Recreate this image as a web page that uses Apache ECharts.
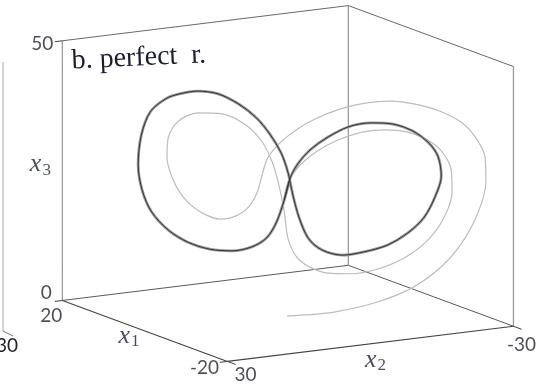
<!DOCTYPE html>
<html>
<head>
<meta charset="utf-8">
<script src="https://cdn.jsdelivr.net/npm/echarts@6/dist/echarts.min.js"></script>
<style>
html, body { margin: 0; padding: 0; background: #fff; }
#chart { width: 545px; height: 386px; }
</style>
</head>
<body>
<div id="chart"></div>
<script>
// Axis ranges of the 3-D box
const x1Range = [-20, 20];
const x2Range = [-30, 30];
const x3Range = [0, 50];

// Tick labels shown at the ends of each axis
const x1TickLabels = ['20', '-20'];
const x2TickLabels = ['30', '-30'];
const x3TickLabels = ['0', '50'];

// Transient part of the trajectory (light grey)
const transientX1 = [-1.2, -2.0, -4.2, -7.7, -10.8, -13.5, -15.4, -16.9, -17.6, -17.5, -16.7, -15.4, -13.5, -11.3, -9.1, -6.8, -4.6, -2.4, -0.6, 0.7,
  1.8, 2.3, 2.7, 3.4, 4.6, 6.0, 7.6, 9.0, 10.1, 10.7, 10.6, 9.7, 8.0, 5.8, 3.7, 2.3, 1.4, 0.8, 0.3, 0.0,
  -0.7, -1.9, -3.6, -5.5, -8.2, -10.6, -12.6, -13.9, -14.6, -14.5, -13.7, -12.4, -10.6, -8.6, -6.6, -4.4, -2.5, -1.1, -0.2];
const transientX2 = [1.2, -2.9, -6.3, -11.6, -16.2, -20.2, -23.2, -25.3, -26.3, -26.2, -25.0, -23.2, -20.2, -16.9, -13.6, -10.3, -6.9, -3.6, -0.9, 1.1,
  2.7, 3.4, 4.1, 5.2, 6.9, 9.0, 11.4, 13.6, 15.2, 16.1, 15.9, 14.6, 12.0, 8.8, 5.6, 3.4, 2.1, 1.2, 0.5, 0.0,
  -1.1, -2.8, -5.3, -8.3, -12.3, -16.0, -18.9, -20.9, -21.8, -21.7, -20.5, -18.6, -16.0, -12.9, -9.9, -6.7, -3.7, -1.6, -0.3];
const transientX3 = [0.0, 0.0, 0.8, 3.0, 6.0, 10.4, 15.5, 21.6, 27.5, 32.3, 35.8, 38.6, 40.6, 41.7, 42.0, 41.3, 39.9, 37.7, 35.2, 32.7,
  29.7, 26.4, 23.0, 20.2, 18.2, 17.4, 18.4, 20.7, 24.2, 28.8, 32.6, 35.8, 37.6, 37.7, 35.8, 32.7, 29.0, 24.6, 19.5, 14.5,
  11.1, 9.2, 8.2, 8.3, 9.7, 12.4, 16.1, 20.5, 25.2, 29.4, 32.8, 34.9, 36.2, 36.4, 35.7, 33.9, 31.4, 28.7, 26.1];

// Settled figure-eight orbit (dark band)
const orbitX1 = [-0.2, 0.3, 1.0, 1.9, 3.2, 5.0, 6.9, 8.9, 10.6, 12.1, 12.9, 13.3, 13.0, 12.2, 10.9, 9.7, 8.0, 6.2, 4.4, 2.8, 1.6, 0.6,
  0.0, -0.4, -1.0, -1.8, -3.0, -4.8, -6.8, -8.8, -10.6, -12.1, -13.0, -13.6, -13.3, -12.5, -11.1, -9.3, -7.4, -5.4, -3.6, -2.0, -0.9];
const orbitX2 = [-0.3, 0.5, 1.5, 2.8, 4.8, 7.4, 10.4, 13.3, 15.9, 18.1, 19.4, 19.9, 19.5, 18.3, 16.3, 14.6, 12.0, 9.3, 6.6, 4.2, 2.4, 0.9,
  0.0, -0.7, -1.5, -2.7, -4.5, -7.2, -10.1, -13.2, -16.0, -18.1, -19.6, -20.4, -20.0, -18.8, -16.6, -14.0, -11.0, -8.1, -5.3, -2.9, -1.3];
const orbitX3 = [26.1, 21.8, 17.5, 14.3, 12.4, 11.4, 11.5, 12.6, 14.7, 18.0, 22.1, 26.9, 32.7, 37.3, 39.9, 41.0, 41.8, 41.5, 39.8, 37.3, 34.3, 30.8,
  27.2, 22.8, 18.5, 14.7, 12.6, 11.8, 12.7, 14.2, 16.8, 20.0, 24.0, 28.1, 31.8, 34.3, 36.5, 37.6, 37.6, 36.6, 34.4, 31.7, 28.9];

// Orthographic camera: azimuth / elevation in degrees, relative box half-lengths
const view = { az: 240, el: 12.3, box: [1, 1, 0.805] };
// Pixel scale of one box unit and the on-screen centre of the box
const W = 545, H = 386, unitPx = 165.1, centre = [287.9, 183.5];

function project(p1, p2, p3) {
  const n1 = (p1 - (x1Range[0] + x1Range[1]) / 2) / ((x1Range[1] - x1Range[0]) / 2) * view.box[0];
  const n2 = (p2 - (x2Range[0] + x2Range[1]) / 2) / ((x2Range[1] - x2Range[0]) / 2) * view.box[1];
  const n3 = (p3 - (x3Range[0] + x3Range[1]) / 2) / ((x3Range[1] - x3Range[0]) / 2) * view.box[2];
  const a = view.az * Math.PI / 180, e = view.el * Math.PI / 180;
  const u = n1 * Math.cos(a) + n2 * Math.sin(a);
  const w = -n1 * Math.sin(e) * Math.sin(a) + n2 * Math.sin(e) * Math.cos(a) + n3 * Math.cos(e);
  return [u, w];
}

function path(a1, a2, a3, close) {
  const pts = a1.map((v, i) => project(v, a2[i], a3[i]));
  if (close) pts.push(pts[0], pts[1]);
  return pts;
}

// Box corners
const [lo1, hi1] = x1Range, [lo2, hi2] = x2Range, [lo3, hi3] = x3Range;
const A = [hi1, hi2], B = [lo1, hi2], C = [lo1, lo2], D = [hi1, lo2];
const P = (c, z) => project(c[0], c[1], z);
const GAP = '-';

const floorFront = [P(A, lo3), P(B, lo3), P(C, lo3)];
const floorBack = [P(A, lo3), P(D, lo3), P(C, lo3)];
const verticals = [P(A, lo3), P(A, hi3), GAP, P(D, lo3), P(D, hi3), GAP, P(C, lo3), P(C, hi3)];
const topEdges = [P(A, hi3), P(D, hi3), P(C, hi3)];
const ticks = [
  P(A, lo3), project(hi1, hi2 + 1.6, lo3), GAP,
  P(A, hi3), project(hi1, hi2 + 1.6, hi3), GAP,
  P(B, lo3), project(lo1, hi2 + 1.6, lo3), GAP,
  P(B, lo3), project(lo1 - 2, hi2, lo3), GAP,
  P(C, lo3), project(lo1 - 2, lo2, lo3)
];

const tickFont = { fontFamily: 'Lato', fontSize: 19, color: '#1f1f2a' };
const mathRich = {
  i: { fontFamily: 'Liberation Serif', fontStyle: 'italic', fontSize: 26, color: '#1c1f3a' },
  s: { fontFamily: 'Liberation Serif', fontSize: 17, color: '#1c1f3a', padding: [12, 0, 0, 1] }
};

function lbl(pt, text, dx, dy, rich) {
  return {
    value: pt,
    label: {
      show: true, position: 'inside', offset: [dx, dy], formatter: text,
      align: 'center', verticalAlign: 'middle',
      ...(rich ? { rich: rich } : tickFont)
    }
  };
}

const labels = [
  lbl(P(A, hi3), x3TickLabels[1], -20, 3),
  lbl(P(A, lo3), x3TickLabels[0], -16, -8),
  lbl(P(A, lo3), x1TickLabels[0], -11, 15),
  lbl(P(B, lo3), x1TickLabels[1], -23, 6),
  lbl(P(B, lo3), x2TickLabels[0], 18, 13),
  lbl(P(C, lo3), x2TickLabels[1], 8, 19),
  lbl(project(hi1, hi2, (lo3 + hi3) / 2), '{i|x}{s|3}', -22, -6, mathRich),
  lbl(project(0, hi2, lo3), '{i|x}{s|1}', -16, 5, mathRich),
  lbl(project(lo1, 0, lo3), '{i|x}{s|2}', 5, 16, mathRich)
];

function lineSeries(data, color, width, z, smooth) {
  return {
    type: 'line', data: data, showSymbol: false, symbol: 'none', smooth: smooth || false,
    connectNulls: false, clip: false, silent: true, z: z,
    lineStyle: { color: color, width: width }
  };
}

const chart = echarts.init(document.getElementById('chart'), null, { renderer: 'canvas' });
chart.setOption({
  animation: false,
  backgroundColor: '#ffffff',
  grid: { left: 0, top: 0, width: W, height: H },
  xAxis: { type: 'value', show: false, min: -centre[0] / unitPx, max: (W - centre[0]) / unitPx },
  yAxis: { type: 'value', show: false, min: -(H - centre[1]) / unitPx, max: centre[1] / unitPx },
  graphic: [
    { type: 'text', left: 71, top: 41, rotation: 0.045, z: 10,
      style: { text: 'b. perfect  r.', fontFamily: 'Liberation Serif', fontSize: 28, fill: '#1a1c30' } },
    // edge of the neighbouring panel
    { type: 'line', shape: { x1: 3, y1: 62, x2: 3, y2: 331 }, style: { stroke: '#aaaaaa', lineWidth: 1 } },
    { type: 'line', shape: { x1: 3, y1: 331, x2: 13, y2: 336 }, style: { stroke: '#777777', lineWidth: 1 } },
    { type: 'text', right: 545 - 18, top: 336, style: { text: '30', fontFamily: 'Lato', fontSize: 19, fill: '#1f1f2a' } }
  ],
  series: [
    lineSeries(verticals, '#9c9c9c', 1.3, 1),
    lineSeries(topEdges, '#6a6a6a', 1, 1),
    lineSeries(floorBack, '#5a5a5a', 1, 1),
    lineSeries(floorFront, '#444444', 1.1, 1),
    lineSeries(ticks, '#444444', 1, 1),
    lineSeries(path(transientX1, transientX2, transientX3, false), '#bdbdbd', 1.2, 2, 0.3),
    lineSeries(path(orbitX1, orbitX2, orbitX3, true), '#9a9a9a', 2.8, 3, 0.3),
    lineSeries(path(orbitX1, orbitX2, orbitX3, true), '#333333', 1.0, 4, 0.3),
    { type: 'scatter', symbolSize: 0, silent: true, z: 10, data: labels }
  ]
});
</script>
</body>
</html>
